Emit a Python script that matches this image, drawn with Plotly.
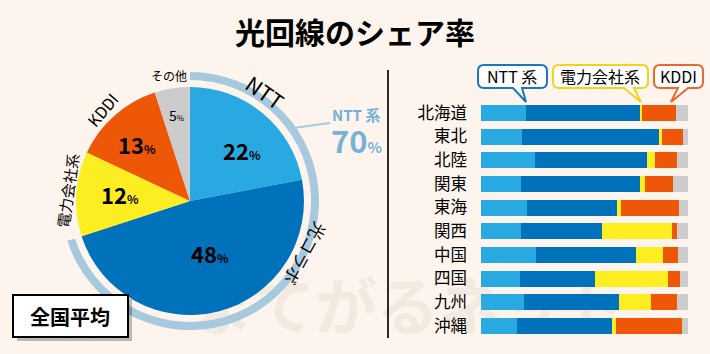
import plotly.graph_objects as go

W, H = 710, 354
def px(x):
    return x / W
def py(y):
    return 1 - y / H

# ---------------- data ----------------
pie_labels = ["NTT", "光コラボ", "電力会社系", "KDDI", "その他"]
pie_values = [22, 48, 12, 13, 5]
pie_colors = ["#29a9e1", "#0071bb", "#fcee21", "#ee5608", "#cccccc"]
ntt_share = 70

regions = ["北海道", "東北", "北陸", "関東", "東海", "関西", "中国", "四国", "九州", "沖縄"]
ntt_fiber = [21.8, 19.7, 26.2, 19.2, 22.3, 19.1, 26.8, 18.6, 20.7, 17.6]
hikari_collabo = [55.1, 66.4, 54.1, 57.8, 43.6, 39.3, 48.1, 36.3, 45.9, 45.7]
power_company = [1.1, 1.5, 3.9, 2.4, 1.5, 33.8, 12.9, 35.4, 15.7, 1.9]
kddi = [16.0, 9.9, 10.5, 13.4, 28.4, 2.7, 7.3, 5.7, 12.6, 32.0]
others = [6.0, 2.5, 5.3, 7.2, 4.2, 5.1, 4.9, 4.0, 5.1, 2.8]

FONT = "Noto Sans CJK JP"
BG = "#fdf5ed"

fig = go.Figure()

# watermark (behind everything) on first subplot
fig.add_trace(go.Scatter(
    x=[408], y=[314], mode="text", text=["<b>まてがるネット</b>"],
    textfont=dict(family=FONT, size=62, color="#f2eae1"),
    hoverinfo="skip", showlegend=False, xaxis="x", yaxis="y"))

# pie
cx, cy, r = 190, 201, 114
fig.add_trace(go.Pie(
    values=pie_values, labels=pie_labels, sort=False, direction="clockwise",
    rotation=0, textinfo="none", showlegend=False,
    marker=dict(colors=pie_colors, line=dict(width=0)),
    domain=dict(x=[px(cx - r), px(cx + r)], y=[py(cy + r), py(cy - r)])))

# NTT ring
R = 129
fig.add_trace(go.Pie(
    values=[ntt_share, 100 - ntt_share], labels=["NTT 系", ""], sort=False,
    direction="clockwise", rotation=0, textinfo="none", showlegend=False,
    hole=121 / 129, hoverinfo="skip",
    marker=dict(colors=["#a6c9de", "rgba(0,0,0,0)"], line=dict(width=0)),
    domain=dict(x=[px(cx - R), px(cx + R)], y=[py(cy + R), py(cy - R)])))

# stacked bars
series = [
    ("NTT", ntt_fiber, "#29a9e1"),
    ("光コラボ", hikari_collabo, "#0071bb"),
    ("電力会社系", power_company, "#fcee21"),
    ("KDDI", kddi, "#ee5608"),
    ("その他", others, "#cccccc"),
]
for name, vals, col in series:
    fig.add_trace(go.Bar(
        y=regions, x=vals, name=name, orientation="h",
        marker=dict(color=col, line=dict(width=0)),
        showlegend=False, xaxis="x2", yaxis="y2"))

annotations = []
def ann(x, y, text, size, color="black", angle=0, bold=False, **kw):
    t = f"<b>{text}</b>" if bold else text
    annotations.append(dict(
        x=px(x), y=py(y), xref="paper", yref="paper", text=t, showarrow=False,
        textangle=angle, font=dict(family=FONT, size=size, color=color),
        xanchor="center", yanchor="middle", **kw))

ann(355, 31, "光回線のシェア率", 30, bold=True)

# pie labels
ann(242, 150, "<b>22</b><span style='font-size:12px'><b>%</b></span>", 22)
ann(210, 253, "<b>48</b><span style='font-size:12px'><b>%</b></span>", 22)
ann(120, 194, "<b>12</b><span style='font-size:12px'><b>%</b></span>", 22)
ann(137, 144, "<b>13</b><span style='font-size:12px'><b>%</b></span>", 22)
ann(177, 115, "5<span style='font-size:8px'>%</span>", 14)

ann(169, 75, "その他", 12)
ann(102, 110, "KDDI", 16, angle=-50)
ann(67, 191, "電力会社系", 15, angle=-82)
ann(265, 92, "NTT", 21, angle=35)
ann(306, 254, "光コラボ", 17, angle=119)

ann(356, 115, "NTT 系", 15, color="#79b1d6", bold=True)
ann(356, 139, "<b>70</b><span style='font-size:15px'><b>%</b></span>", 31, color="#79b1d6")

# legend callouts text
ann(512, 76, "NTT 系", 16)
ann(600, 76, "電力会社系", 16)
ann(678, 76, "KDDI", 16)

ann(70, 316, "全国平均", 20, bold=True)

shapes = []

def callout(x0, y0, x1, y1, rr, bx0, bx1, tx, ty, color):
    P = lambda x, y: f"{px(x):.5f},{py(y):.5f}"
    d = (f"M{P(x0 + rr, y0)} L{P(x1 - rr, y0)} Q{P(x1, y0)} {P(x1, y0 + rr)} "
         f"L{P(x1, y1 - rr)} Q{P(x1, y1)} {P(x1 - rr, y1)} "
         f"L{P(bx1, y1)} L{P(tx, ty)} L{P(bx0, y1)} "
         f"L{P(x0 + rr, y1)} Q{P(x0, y1)} {P(x0, y1 - rr)} "
         f"L{P(x0, y0 + rr)} Q{P(x0, y0)} {P(x0 + rr, y0)} Z")
    shapes.append(dict(type="path", path=d, xref="paper", yref="paper",
                       fillcolor="white", line=dict(color=color, width=2)))

callout(478, 65, 547, 88, 6, 513, 522, 526, 102, "#1a78c2")
callout(553, 65, 648, 88, 6, 624, 634, 641, 102, "#f2d31c")
callout(654, 65, 703, 88, 6, 678, 688, 671, 102, "#f0652a")

# divider
shapes.append(dict(type="line", xref="paper", yref="paper",
                   x0=px(388), x1=px(388), y0=py(70), y1=py(338),
                   line=dict(color="#2b2b2b", width=2)))
# connector line for NTT 系
shapes.append(dict(type="line", xref="paper", yref="paper",
                   x0=px(293), y0=py(128), x1=px(330), y1=py(123),
                   line=dict(color="#a6c9de", width=2)))
# 全国平均 box with shadow
shapes.append(dict(type="rect", xref="paper", yref="paper",
                   x0=px(17), y0=py(299), x1=px(132), y1=py(341),
                   fillcolor="rgba(0,0,0,0.25)", line=dict(width=0)))
shapes.append(dict(type="rect", xref="paper", yref="paper",
                   x0=px(13), y0=py(295), x1=px(128), y1=py(337),
                   fillcolor="white", line=dict(color="black", width=2)))

fig.update_layout(
    width=W, height=H, margin=dict(l=0, r=0, t=0, b=0),
    paper_bgcolor=BG, plot_bgcolor="rgba(0,0,0,0)",
    barmode="stack", bargap=0.32,
    font=dict(family=FONT),
    xaxis=dict(domain=[0, 1], range=[0, W], visible=False, fixedrange=True),
    yaxis=dict(domain=[0, 1], range=[H, 0], visible=False, fixedrange=True),
    xaxis2=dict(domain=[px(481), px(688)], range=[0, 100], visible=False,
                anchor="y2"),
    yaxis2=dict(domain=[py(337.8), py(101.2)], anchor="x2", type="category",
                categoryorder="array", categoryarray=regions,
                autorange="reversed", showgrid=False, showline=False,
                zeroline=False, ticks="", ticklabelstandoff=13,
                tickfont=dict(family=FONT, size=16.5, color="black")),
    annotations=annotations, shapes=shapes,
)

fig.write_html("out.html")
